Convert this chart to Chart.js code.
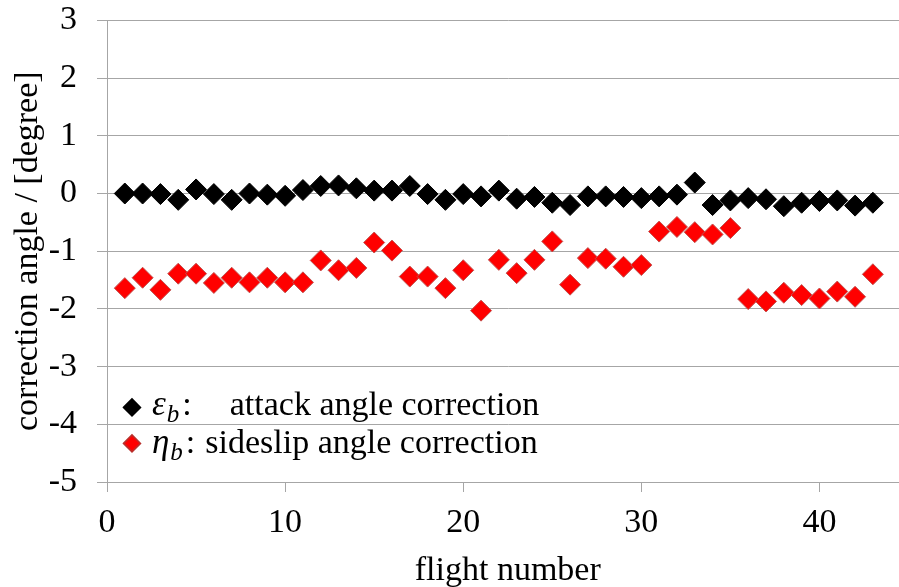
<!DOCTYPE html>
<html>
<head>
<meta charset="utf-8">
<script src="https://cdn.jsdelivr.net/npm/chart.js@4/dist/chart.umd.min.js"></script>
<style>
  html, body { margin: 0; padding: 0; background: #fff; overflow: hidden; }
  #wrap { width: 920px; height: 607px; margin-top: -20px; }
</style>
</head>
<body>
<div id="wrap"><canvas id="angles" width="920" height="607"></canvas></div>
<script>
// flight numbers
const flights = [1, 2, 3, 4, 5, 6, 7, 8, 9, 10, 11, 12, 13, 14, 15, 16, 17, 18, 19, 20, 21,
  22, 23, 24, 25, 26, 27, 28, 29, 30, 31, 32, 33, 34, 35, 36, 37, 38, 39, 40, 41, 42, 43];

// epsilon_b, attack angle correction [deg]
const attackCorr = [0.00, 0.00, -0.01, -0.11, 0.07, -0.01, -0.11, 0.00, -0.02, -0.04, 0.06,
  0.13, 0.14, 0.09, 0.05, 0.05, 0.13, -0.01, -0.11, -0.01, -0.05,
  0.05, -0.09, -0.06, -0.16, -0.20, -0.05, -0.05, -0.06, -0.08, -0.05,
  -0.02, 0.19, -0.20, -0.12, -0.08, -0.10, -0.22, -0.16, -0.13, -0.12, -0.21, -0.16];

// eta_b, sideslip angle correction [deg]
const sideslipCorr = [-1.64, -1.46, -1.67, -1.39, -1.39, -1.55, -1.46, -1.54, -1.46, -1.54, -1.54,
  -1.16, -1.33, -1.29, -0.85, -0.99, -1.44, -1.44, -1.64, -1.33, -2.03,
  -1.15, -1.38, -1.15, -0.83, -1.58, -1.12, -1.13, -1.27, -1.24, -0.66,
  -0.58, -0.67, -0.71, -0.60, -1.83, -1.87, -1.72, -1.76, -1.82, -1.70, -1.79, -1.40];

const yTicks = [-5, -4, -3, -2, -1, 0, 1, 2, 3];
const xTicks = [0, 10, 20, 30, 40];

const serif = "'Liberation Serif', 'Times New Roman', serif";
const gridGray = '#a6a6a6';

Chart.defaults.font.family = serif;
Chart.defaults.font.size = 34;
Chart.defaults.color = '#000';

const toPoints = vals => vals.map((v, i) => ({ x: flights[i], y: v }));

// legend with italic symbols and subscripts, drawn on the canvas
const legendRows = [
  { sym: '\u03B5', sub: 'b', text: 'attack angle correction', fill: '#000', stroke: '#000', gap: 38 },
  { sym: '\u03B7', sub: 'b', text: 'sideslip angle correction', fill: '#ff0000', stroke: '#b8302c', gap: 10 }
];

const mathLegend = {
  id: 'mathLegend',
  afterDatasetsDraw(chart) {
    const ctx = chart.ctx;
    const area = chart.chartArea;
    ctx.save();
    legendRows.forEach((row, i) => {
      const cx = area.left + 25;
      const cy = area.top + 387 + i * 36;
      const r = 8.5;
      ctx.beginPath();
      ctx.moveTo(cx - r, cy);
      ctx.lineTo(cx, cy - r);
      ctx.lineTo(cx + r, cy);
      ctx.lineTo(cx, cy + r);
      ctx.closePath();
      ctx.fillStyle = row.fill;
      ctx.fill();
      ctx.lineWidth = 1.5;
      ctx.strokeStyle = row.stroke;
      ctx.stroke();

      const base = cy + 8 + i * 2;
      let x = cx + 20;
      ctx.fillStyle = '#000';
      ctx.textBaseline = 'alphabetic';
      ctx.textAlign = 'left';
      ctx.font = 'italic 35px ' + serif;
      ctx.fillText(row.sym, x, base);
      x += ctx.measureText(row.sym).width + 1;
      ctx.font = 'italic 25px ' + serif;
      ctx.fillText(row.sub, x, base + 7);
      x += ctx.measureText(row.sub).width + 3;
      ctx.font = '34px ' + serif;
      ctx.fillText(':', x, base);
      x += ctx.measureText(':').width + row.gap;
      ctx.fillText(row.text, x, base);
    });
    ctx.restore();
  }
};

new Chart(document.getElementById('angles'), {
  type: 'scatter',
  data: {
    datasets: [
      {
        label: 'attack angle correction',
        data: toPoints(attackCorr),
        pointStyle: 'rectRot',
        pointRadius: 10.5,
        backgroundColor: '#000',
        borderColor: '#000',
        borderWidth: 1
      },
      {
        label: 'sideslip angle correction',
        data: toPoints(sideslipCorr),
        pointStyle: 'rectRot',
        pointRadius: 10.5,
        backgroundColor: '#ff0000',
        borderColor: '#c0504d',
        borderWidth: 1
      }
    ]
  },
  options: {
    responsive: false,
    animation: false,
    layout: { padding: { top: 0, right: 9, left: 0, bottom: 0 } },
    plugins: {
      legend: { display: false },
      tooltip: { enabled: false }
    },
    scales: {
      x: {
        type: 'linear',
        min: 0,
        max: 45,
        afterFit: s => { s.height = 105; },
        afterBuildTicks: s => { s.ticks = xTicks.map(v => ({ value: v })); },
        ticks: { padding: 11, color: '#000' },
        grid: { drawOnChartArea: false, drawTicks: true, tickLength: 10, color: gridGray },
        border: { color: gridGray },
        title: { display: true, text: 'flight number', color: '#000', padding: { top: 0, bottom: -4 } }
      },
      y: {
        min: -5,
        max: 3,
        afterFit: s => { s.width = 107; },
        afterBuildTicks: s => { s.ticks = yTicks.map(v => ({ value: v })); },
        ticks: { padding: 20, color: '#000' },
        grid: { color: gridGray, tickLength: 10 },
        border: { color: gridGray },
        title: { display: true, text: 'correction angle / [degree]', color: '#000', padding: { top: 8, bottom: 0 } }
      }
    }
  },
  plugins: [mathLegend]
});
</script>
</body>
</html>
